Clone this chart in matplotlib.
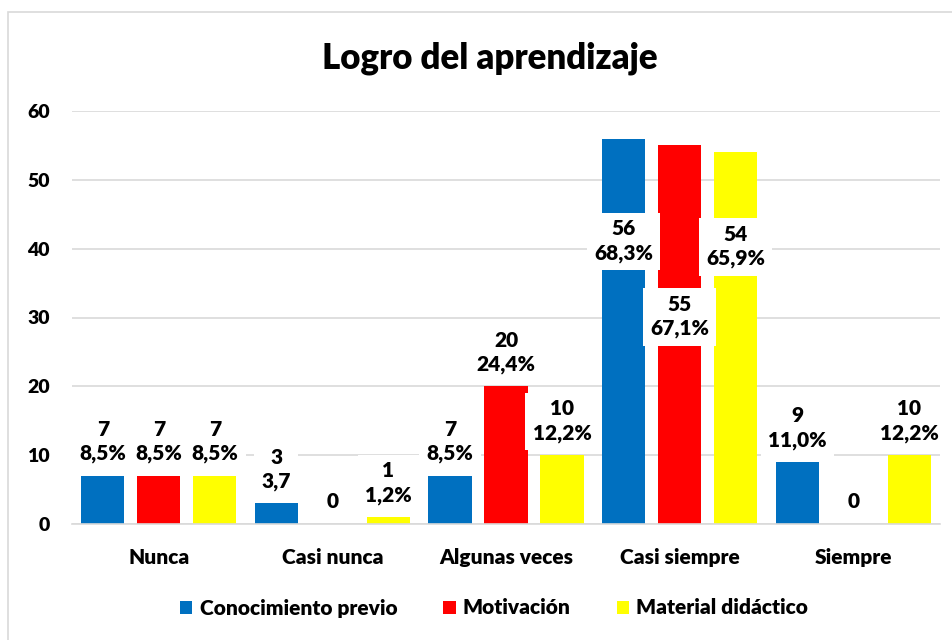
import numpy as np
import matplotlib
matplotlib.use("Agg")
import matplotlib.pyplot as plt
from matplotlib.patches import Rectangle

plt.rcParams['font.family'] = ['Lato', 'DejaVu Sans']
W = "heavy"
plt.rcParams['font.weight'] = W

categories = ["Nunca", "Casi nunca", "Algunas veces", "Casi siempre", "Siempre"]
series_names = ["Conocimiento previo", "Motivación", "Material didáctico"]
conocimiento = [7, 3, 7, 56, 9]
motivacion = [7, 0, 20, 55, 0]
material = [7, 1, 10, 54, 10]
pct_conocimiento = ["8,5%", "3,7", "8,5%", "68,3%", "11,0%"]
pct_motivacion = ["8,5%", "", "24,4%", "67,1%", ""]
pct_material = ["8,5%", "1,2%", "12,2%", "65,9%", "12,2%"]
y_ticks = [0, 10, 20, 30, 40, 50, 60]

colors = ["#0070C0", "#FF0000", "#FFFF00"]
# manual label centres (data units) used for the "Casi siempre" group
label_override = {(0, 3): 41.1, (1, 3): 30.1, (2, 3): 40.3}

fig = plt.figure(figsize=(9.52, 6.4), dpi=100)
ax = fig.add_axes([72/952, 116/640, 868/952, 413/640])

x = np.arange(len(categories))
step = 0.3226
width = 0.248
all_vals = [conocimiento, motivacion, material]
all_pct = [pct_conocimiento, pct_motivacion, pct_material]

for i, (vals, pcts) in enumerate(zip(all_vals, all_pct)):
    xs = x + (i - 1) * step
    ax.bar(xs, vals, width=width, color=colors[i], label=series_names[i], zorder=2)
    for j, (xx, v, p) in enumerate(zip(xs, vals, pcts)):
        txt = f"{v}\n{p}" if p else f"{v}"
        bbox = dict(boxstyle="square,pad=0.35", fc="white", ec="none")
        if (i, j) in label_override:
            ax.annotate(txt, xy=(xx, label_override[(i, j)]), ha="center", va="center",
                        fontsize=15, fontweight=W, linespacing=1.3, bbox=bbox, zorder=3)
        else:
            ax.annotate(txt, xy=(xx, v), xytext=(0, 9), textcoords="offset points",
                        ha="center", va="bottom", fontsize=15, fontweight=W,
                        linespacing=1.3, bbox=bbox, zorder=3)

ax.set_xlim(-0.5, len(categories) - 0.5)
ax.set_ylim(0, 60)
ax.set_yticks(y_ticks)
ax.set_yticklabels([str(t) for t in y_ticks], fontsize=14, fontweight=W)
ax.set_xticks(x)
ax.set_xticklabels(categories, fontsize=15, fontweight=W)
ax.tick_params(axis="both", length=0)
ax.tick_params(axis="y", pad=16)
ax.tick_params(axis="x", pad=17)
ax.grid(axis="y", color="#D9D9D9", linewidth=1.2, zorder=0)
ax.set_axisbelow(True)
for s in ["top", "right", "left"]:
    ax.spines[s].set_visible(False)
ax.spines["bottom"].set_color("#D9D9D9")
ax.spines["bottom"].set_linewidth(1.2)

fig.text(490/952, 1 - 58/640, "Logro del aprendizaje", ha="center", va="center",
         fontsize=25, fontweight=W)

leg = fig.legend(loc="center", bbox_to_anchor=(494/952, 1 - 608/640), ncol=3, frameon=False,
                 handlelength=0.6, handleheight=0.6, handletextpad=0.35,
                 columnspacing=2.2, prop={"weight": W, "size": 15})

fig.patches.append(Rectangle((8/952, -0.05), 1.1, 1 - 12/640 + 0.05, transform=fig.transFigure,
                             fill=False, ec="#D9D9D9", lw=1.2))

fig.savefig("out.png", dpi=100, facecolor="white")
